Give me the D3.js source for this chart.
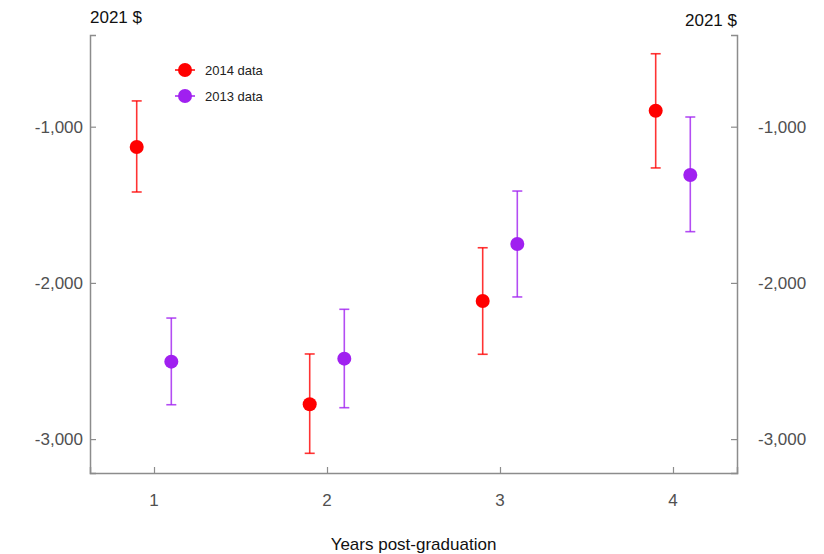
<!DOCTYPE html>
<html>
<head>
<meta charset="utf-8">
<script src="https://cdn.jsdelivr.net/npm/d3@7"></script>
<style>
  body { margin: 0; background: #fff; }
  text { font-family: Arial, "Liberation Sans", sans-serif; }
</style>
</head>
<body>
<div id="chart"></div>
<script>
// years post-graduation
const years = [1, 2, 3, 4];
// 2014 data (2021 $): estimate, lower, upper
const est2014 = [-1130, -2777, -2116, -898];
const low2014 = [-1418, -3091, -2457, -1264];
const high2014 = [-835, -2455, -1775, -533];
// 2013 data (2021 $)
const est2013 = [-2504, -2485, -1751, -1309];
const low2013 = [-2780, -2799, -2090, -1672];
const high2013 = [-2225, -2169, -1412, -938];
const yTicks = [-1000, -2000, -3000];

const series = [
  { name: "2014 data", color: "#ff0000", offset: -0.1, est: est2014, low: low2014, high: high2014 },
  { name: "2013 data", color: "#a020f0", offset: 0.1, est: est2013, low: low2013, high: high2013 }
];

const width = 824, height = 554;
const margin = { left: 90, right: 87, top: 35, bottom: 81 };

const svg = d3.select("#chart").append("svg")
  .attr("width", width).attr("height", height);

const x = d3.scaleLinear().domain([0.63, 4.37]).range([margin.left, width - margin.right]);
const y = d3.scaleLinear().domain([-3217, -413]).range([height - margin.bottom, margin.top]);

const axisColor = "#8c8c8c";
const labelColor = "#505050";
const fmt = d => d3.format(",")(d).replace("\u2212", "-");

// axes
const left = svg.append("g").attr("transform", `translate(${margin.left},0)`)
  .call(d3.axisRight(y).tickValues(yTicks).tickSize(6).tickFormat(""));
const right = svg.append("g").attr("transform", `translate(${width - margin.right},0)`)
  .call(d3.axisLeft(y).tickValues(yTicks).tickSize(6).tickFormat(""));
const bottom = svg.append("g").attr("transform", `translate(0,${height - margin.bottom})`)
  .call(d3.axisTop(x).tickValues(years).tickSize(6).tickFormat(""));
[left, right, bottom].forEach(g => {
  g.select(".domain").attr("stroke", axisColor).attr("stroke-width", 1.5);
  g.selectAll(".tick line").attr("stroke", axisColor).attr("stroke-width", 1.2);
});

// tick labels
svg.append("g").selectAll("text").data(yTicks).join("text")
  .attr("x", margin.left - 7).attr("y", d => y(d)).attr("dy", "0.35em")
  .attr("text-anchor", "end").attr("font-size", 17).attr("fill", labelColor)
  .text(d => fmt(d));
svg.append("g").selectAll("text").data(yTicks).join("text")
  .attr("x", width - margin.right + 21).attr("y", d => y(d)).attr("dy", "0.35em")
  .attr("text-anchor", "start").attr("font-size", 17).attr("fill", labelColor)
  .text(d => fmt(d));
svg.append("g").selectAll("text").data(years).join("text")
  .attr("x", d => x(d)).attr("y", height - margin.bottom + 27).attr("dy", "0.35em")
  .attr("text-anchor", "middle").attr("font-size", 17).attr("fill", labelColor)
  .text(d => d);

// unit labels and axis title
svg.append("text").attr("x", margin.left).attr("y", 23)
  .attr("font-size", 17).attr("fill", "#111").text("2021 $");
svg.append("text").attr("x", width - margin.right).attr("y", 26)
  .attr("text-anchor", "end").attr("font-size", 17).attr("fill", "#111").text("2021 $");
svg.append("text").attr("x", (margin.left + width - margin.right) / 2).attr("y", 550)
  .attr("text-anchor", "middle").attr("font-size", 17).attr("fill", "#111")
  .text("Years post-graduation");

// error bars and points
series.forEach(s => {
  const g = svg.append("g");
  const rows = years.map((yr, i) => ({ x: yr + s.offset, est: s.est[i], low: s.low[i], high: s.high[i] }));
  g.selectAll("line.bar").data(rows).join("line").attr("class", "bar")
    .attr("x1", d => x(d.x)).attr("x2", d => x(d.x))
    .attr("y1", d => y(d.low)).attr("y2", d => y(d.high))
    .attr("stroke", s.color).attr("stroke-opacity", 0.8).attr("stroke-width", 1.6);
  ["low", "high"].forEach(k => {
    g.selectAll("line.cap-" + k).data(rows).join("line").attr("class", "cap-" + k)
      .attr("x1", d => x(d.x) - 5).attr("x2", d => x(d.x) + 5)
      .attr("y1", d => y(d[k])).attr("y2", d => y(d[k]))
      .attr("stroke", s.color).attr("stroke-opacity", 0.8).attr("stroke-width", 1.6);
  });
  g.selectAll("circle").data(rows).join("circle")
    .attr("cx", d => x(d.x)).attr("cy", d => y(d.est)).attr("r", 7)
    .attr("fill", s.color);
});

// legend
const legend = svg.append("g").attr("transform", "translate(185,70)");
series.forEach((s, i) => {
  const row = legend.append("g").attr("transform", `translate(0,${i * 26})`);
  row.append("line").attr("x1", -10).attr("x2", 10).attr("stroke", s.color).attr("stroke-width", 1.5);
  row.append("circle").attr("r", 7).attr("fill", s.color);
  row.append("text").attr("x", 20).attr("dy", "0.35em").attr("font-size", 13).attr("fill", "#222").text(s.name);
});
</script>
</body>
</html>
